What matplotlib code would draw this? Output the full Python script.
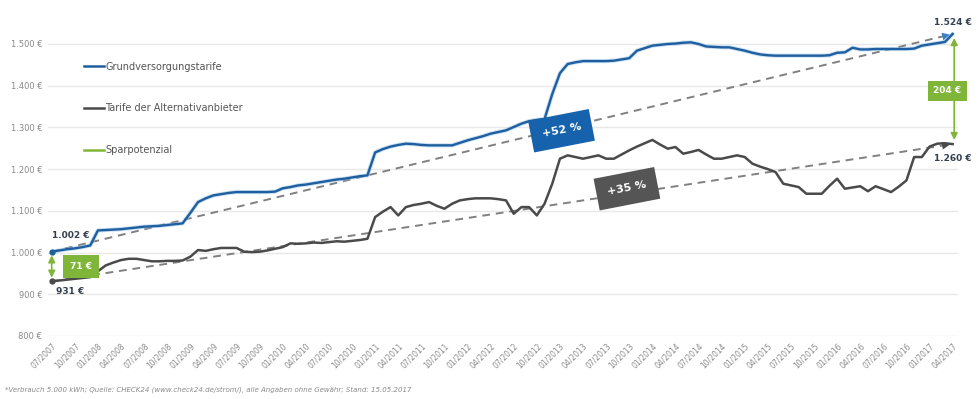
import numpy as np
import pandas as pd
import matplotlib.pyplot as plt
from matplotlib.lines import Line2D

# monthly values 07/2007 .. 04/2017 (in EUR, 5.000 kWh)
grundversorgung = [
    1002, 1005, 1008, 1010, 1013, 1017, 1053, 1054, 1055, 1056,
    1058, 1060, 1062, 1063, 1064, 1066, 1068, 1070, 1095, 1121,
    1130, 1137, 1140, 1143, 1145, 1145, 1145, 1145, 1145, 1146,
    1154, 1157, 1161, 1163, 1166, 1169, 1172, 1175, 1177, 1180,
    1183, 1185, 1240, 1248, 1254, 1258, 1261, 1260, 1258, 1257,
    1257, 1257, 1257, 1263, 1269, 1274, 1279, 1285, 1289, 1293,
    1301, 1309, 1315, 1318, 1320, 1380, 1430, 1452, 1456, 1459,
    1459, 1459, 1459, 1460, 1463, 1466, 1484, 1490, 1496, 1498,
    1500, 1501, 1503, 1504, 1500, 1494, 1493, 1492, 1492, 1488,
    1484, 1479, 1475, 1473, 1472, 1472, 1472, 1472, 1472, 1472,
    1472, 1473, 1479, 1480, 1491, 1487, 1487, 1488, 1488, 1488,
    1488, 1488, 1489, 1496, 1499, 1502, 1505, 1524]

alternativ = [
    931, 933, 935, 937, 939, 941, 955, 969, 976, 982,
    985, 985, 982, 979, 979, 980, 980, 981, 990, 1006,
    1004, 1008, 1011, 1011, 1011, 1002, 1001, 1002, 1005, 1009,
    1013, 1022, 1021, 1022, 1024, 1023, 1025, 1027, 1026, 1028,
    1030, 1033, 1085, 1098, 1109, 1089, 1109, 1114, 1117, 1121,
    1112, 1105, 1117, 1125, 1128, 1130, 1130, 1130, 1128, 1125,
    1093, 1109, 1109, 1089, 1117, 1165, 1225, 1233, 1229, 1225,
    1229, 1233, 1225, 1225, 1235, 1245, 1254, 1262, 1270, 1259,
    1249, 1253, 1237, 1241, 1246, 1235, 1225, 1225, 1229, 1233,
    1229, 1213, 1206, 1200, 1193, 1165, 1161, 1157, 1141, 1141,
    1141, 1160, 1177, 1153, 1156, 1159, 1147, 1159, 1152, 1145,
    1158, 1173, 1229, 1229, 1254, 1261, 1262, 1260]

# labels as printed in the original graphic
box_start = '71 €'
box_end = '204 €'
pct_labels = ['+52 %', '+35 %']

months = pd.date_range('2007-07-01', '2017-04-01', freq='MS')
tick_labels = [d.strftime('%m/%Y') for d in months[::3]]
y_ticks = [800, 900, 1000, 1100, 1200, 1300, 1400, 1500]

blue = '#1f5f9f'
dark = '#4a4a4a'
green = '#7fb539'
label_col = '#34404f'

x = np.arange(len(months))
x_end = x[-1]


def eur(v):
    return f'{v:,}'.replace(',', '.') + ' €'


fig = plt.figure(figsize=(9.77, 3.99), dpi=100)
ax = fig.add_axes([0.049, 0.158, 0.9316, 0.784])
ax.set_xlim(-0.5, 117.7)
ax.set_ylim(800, 1550)

for s in ax.spines.values():
    s.set_visible(False)
ax.set_yticks(y_ticks)
ax.set_yticklabels([eur(v) for v in y_ticks], fontsize=6, color='#8a8a8a')
ax.set_xticks(x[::3])
ax.set_xticklabels(tick_labels, rotation=45, ha='right', rotation_mode='anchor',
                   fontsize=5.5, color='#8a8a8a')
ax.tick_params(length=0, pad=4)
ax.grid(axis='y', color='#e8e8e8', lw=1)
ax.set_axisbelow(True)

# trend lines
ax.plot([0, x_end], [grundversorgung[0], grundversorgung[-1]], ls=(0, (4, 3)), color='#808080', lw=1.4)
ax.plot([0, x_end], [alternativ[0], alternativ[-1]], ls=(0, (4, 3)), color='#808080', lw=1.4)

# series
ax.plot(x, grundversorgung, color='#8fc0e8', lw=3.0, alpha=0.5, solid_capstyle='round')
ax.plot(x, grundversorgung, color=blue, lw=1.7)
ax.plot(x, alternativ, color=dark, lw=1.8)

# arrowheads at the end of the trend lines
g_slope = (grundversorgung[-1] - grundversorgung[0]) / x_end
a_slope = (alternativ[-1] - alternativ[0]) / x_end
ax.annotate('', xy=(x_end, grundversorgung[-1]), xytext=(x_end - 2, grundversorgung[-1] - 2 * g_slope),
            arrowprops=dict(arrowstyle='-|>', color='#3d7fc4', lw=0, mutation_scale=14))
ax.annotate('', xy=(x_end, alternativ[-1]), xytext=(x_end - 2, alternativ[-1] - 2 * a_slope),
            arrowprops=dict(arrowstyle='-|>', color=dark, lw=0, mutation_scale=14))
ax.plot([0], [grundversorgung[0]], 'o', color=blue, ms=3.5)
ax.plot([0], [alternativ[0]], 'o', color=dark, ms=3.5)

# savings arrows
ax.annotate('', xy=(0, alternativ[0] + 2), xytext=(0, grundversorgung[0] - 2),
            arrowprops=dict(arrowstyle='<|-|>', color=green, lw=1.2, mutation_scale=10))
ax.annotate('', xy=(x_end + 0.2, alternativ[-1] + 3), xytext=(x_end + 0.2, grundversorgung[-1] - 3),
            arrowprops=dict(arrowstyle='<|-|>', color=green, lw=1.2, mutation_scale=10))

ax.text(3.8, 966, box_start, ha='center', va='center', color='white', fontsize=6.5,
        fontweight='bold', bbox=dict(boxstyle='square,pad=0.75', fc=green, ec='none'))
ax.text(116.3, 1388, box_end, ha='center', va='center', color='white', fontsize=6.5,
        fontweight='bold', bbox=dict(boxstyle='square,pad=0.6', fc=green, ec='none'))

# value labels
ax.text(0, 1035, eur(grundversorgung[0]), fontsize=6.5, fontweight='bold', color=label_col, ha='left')
ax.text(0.6, 900, eur(alternativ[0]), fontsize=6.5, fontweight='bold', color=label_col, ha='left')
ax.text(x_end, 1545, eur(grundversorgung[-1]), fontsize=6.5, fontweight='bold', color=label_col, ha='center')
ax.text(x_end, 1220, eur(alternativ[-1]), fontsize=6.5, fontweight='bold', color=label_col, ha='center')

# percentage boxes
ax.text(66.2, 1292, pct_labels[0], rotation=11, ha='center', va='center', color='white',
        fontsize=8, fontweight='bold', bbox=dict(boxstyle='square,pad=1.0', fc='#1662ad', ec='none'))
ax.text(74.7, 1153, pct_labels[1], rotation=11, ha='center', va='center', color='white',
        fontsize=8, fontweight='bold', bbox=dict(boxstyle='square,pad=1.0', fc='#555555', ec='none'))

# legend
handles = [Line2D([], [], color=blue, lw=1.8),
           Line2D([], [], color=dark, lw=1.8),
           Line2D([], [], color=green, lw=1.8)]
fig.legend(handles, ['Grundversorgungstarife', 'Tarife der Alternativanbieter', 'Sparpotenzial'],
           loc='upper left', bbox_to_anchor=(0.086, 0.845), frameon=False, fontsize=7,
           labelspacing=3.25, handlelength=2.1, handletextpad=0.1, borderpad=0, borderaxespad=0,
           labelcolor='#555555')

fig.text(0.005, 0.02, '*Verbrauch 5.000 kWh; Quelle: CHECK24 (www.check24.de/strom/), alle Angaben ohne Gewähr; Stand: 15.05.2017',
         fontsize=5, style='italic', color='#8a8a8a')

fig.savefig('out.png', dpi=100)
